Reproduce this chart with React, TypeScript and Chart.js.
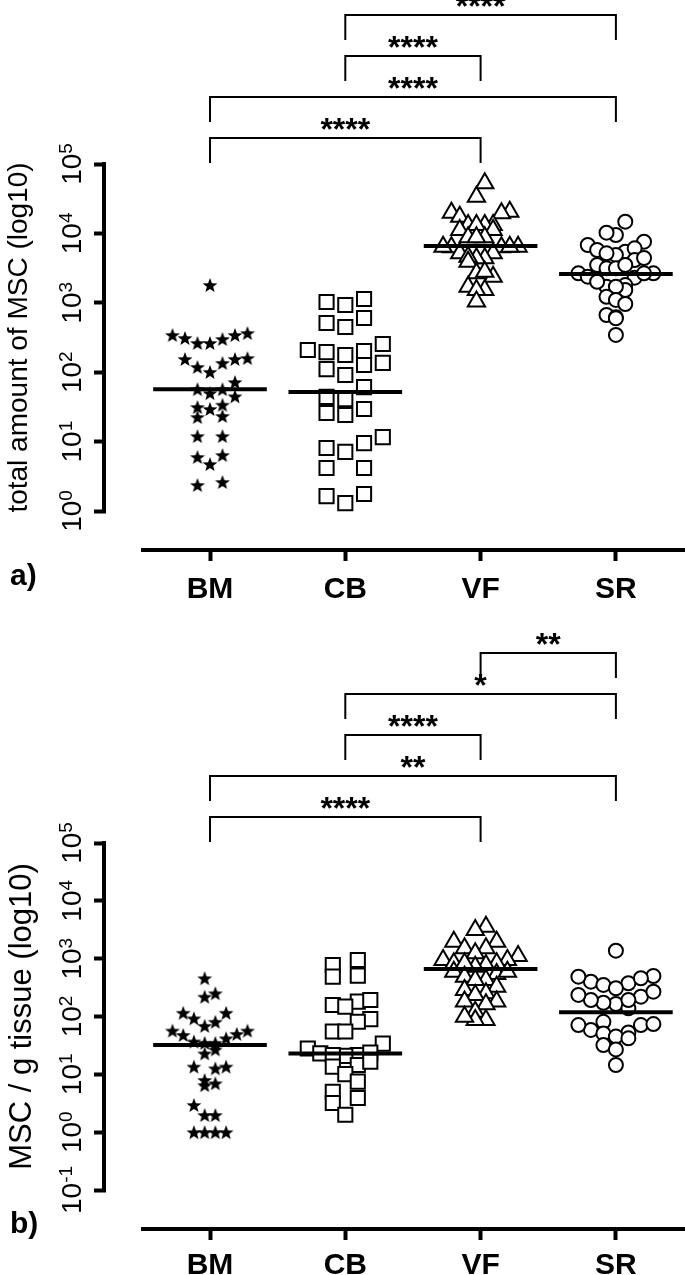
import React, { useEffect, useRef } from "react";
import { Chart, registerables } from "chart.js";

Chart.register(...registerables);

// ---------- data ----------
const categories = ["BM", "CB", "VF", "SR"];

// Panel a: total amount of MSC
const aBM = [1806, 367, 344, 301, 344, 264, 311, 264, 155, 136, 101, 119, 155, 160, 72, 50, 45, 57, 57, 34, 31.5, 29.5, 22.6, 23.4, 12, 12, 6.4, 6.0, 4.75, 2.37, 2.62];
const aCB = [1027, 1135, 929, 512, 604, 448, 202, 177, 195, 209, 255, 91, 111, 127, 136, 61, 44, 41, 25.8, 29.5, 24.2, 11.6, 8.1, 9.5, 7.1, 4.17, 4.17, 1.3, 1.76, 1.64];
const aVF = [52700, 33800, 19900, 20500, 19500, 17400, 13200, 13200, 13200, 13200, 11200, 11200, 8790, 8790, 8790, 6310, 6310, 6430, 6430, 5170, 5170, 6430, 4380, 4380, 4620, 3910, 2380, 2660, 2800, 1710, 1530, 1530, 1040];
const aSR = [14750, 9480, 10230, 6810, 7590, 5450, 6100, 5770, 4890, 5170, 4140, 3510, 3140, 3140, 3510, 2300, 2660, 2660, 2380, 2660, 1800, 1530, 1710, 1710, 2010, 1220, 1100, 961, 667, 618, 598, 344, 4420];
const aMedians = [57, 52, 6600, 2600];

// Panel b: MSC per g tissue
const bBM = [459, 252, 220, 116, 116, 93, 81, 69, 42, 50, 57, 57, 48, 27, 35, 35, 37, 23, 13.6, 13.6, 12.7, 7.0, 6.5, 8.0, 2.95, 1.98, 1.98, 1, 1, 1, 1];
const bCB = [778, 950, 489, 508, 158, 181, 148, 193, 90, 81, 55, 55, 34, 28, 23, 21.6, 20.8, 21.6, 23.7, 13.6, 14.5, 16.6, 10.1, 7.5, 3.9, 5.0, 3.2, 2.0];
const bVF = [3580, 3130, 1970, 1970, 1510, 1510, 1110, 1240, 950, 950, 833, 833, 778, 728, 833, 544, 596, 596, 489, 428, 428, 328, 288, 252, 236, 181, 181, 163, 121, 87, 87, 99];
const bSR = [1376, 376, 400, 502, 458, 351, 220, 308, 269, 165, 173, 193, 139, 58.5, 53, 71, 81, 71, 51, 45, 42, 32, 27, 14.5, 489, 236, 74, 193];
const bMedians = [32, 23, 660, 119];

// significance brackets (category indices), listed from lowest to highest
const aBracketFrom = [0, 0, 1, 1];
const aBracketTo = [2, 3, 2, 3];
const aBracketLabel = ["****", "****", "****", "****"];
const bBracketFrom = [0, 0, 1, 1, 2];
const bBracketTo = [2, 3, 2, 3, 3];
const bBracketLabel = ["****", "**", "****", "*", "**"];

// y tick exponents (labels 10^e)
const aExponents = [0, 1, 2, 3, 4, 5];
const bExponents = [-1, 0, 1, 2, 3, 4, 5];

// ---------- styles / layout ----------
const FONT = '"Liberation Sans", Arial, Helvetica, sans-serif';
const W = 685;
const Y_AXIS_W = 106;
const X_GAP_BELOW = 39; // px between lowest y tick and x axis
const X_AXIS_INSET = 35; // x axis line starts this far right of the y axis
const CAT_FIRST_PX = 104; // distance from y axis to first category
const CAT_STEP_PX = 135.3;
const SPREAD_PX = 75;
const MEDIAN_HALF = 0.42;
const BRACKET_FIRST = 26;
const BRACKET_GAP = 41;
const BRACKET_LEG = 25;
const ROW_PX = [14, 15.5, 14, 14];

function makeStar(): HTMLCanvasElement {
  const size = 16;
  const c = document.createElement("canvas");
  c.width = size;
  c.height = size;
  const g = c.getContext("2d")!;
  const outer = 7.8;
  const inner = 3.3;
  g.beginPath();
  for (let i = 0; i < 10; i++) {
    const r = i % 2 ? inner : outer;
    const a = -Math.PI / 2 + (i * Math.PI) / 5;
    const x = size / 2 + r * Math.cos(a);
    const y = size / 2 + 0.8 + r * Math.sin(a);
    if (i === 0) g.moveTo(x, y);
    else g.lineTo(x, y);
  }
  g.closePath();
  g.fillStyle = "#000";
  g.fill();
  return c;
}

function range(a: number, b: number): number[] {
  const r: number[] = [];
  for (let v = a; v <= b + 1e-9; v += 1) r.push(v);
  return r;
}

// Prism-like row swarm: returns horizontal offsets in px
function swarm(values: number[], pix: (v: number) => number, rowPx: number): number[] {
  const order = values.map((_, i) => i).sort((a, b) => values[b] - values[a]);
  const rows: number[][] = [];
  let cur: number[] = [];
  let startY = 0;
  for (const i of order) {
    const y = pix(values[i]);
    if (cur.length && y - startY > rowPx) {
      rows.push(cur);
      cur = [];
    }
    if (!cur.length) startY = y;
    cur.push(i);
  }
  if (cur.length) rows.push(cur);
  const maxRow = Math.max(...rows.map((r) => r.length));
  const half = maxRow % 2 === 0;
  const slotPx = maxRow > 1 ? SPREAD_PX / (maxRow - 1) : 0;
  const off = new Array(values.length).fill(0);
  for (const row of rows) {
    const k = row.length;
    let slots: number[];
    if (!half) {
      if (k % 2 === 1) slots = range(-(k - 1) / 2, (k - 1) / 2);
      else if (k === 2) slots = [-1, 1];
      else slots = range(-(k / 2 - 1), k / 2);
    } else {
      if (k % 2 === 0) slots = range(-(k - 1) / 2, (k - 1) / 2);
      else slots = range(-(k - 1) / 2 - 0.5, (k - 1) / 2 - 0.5);
    }
    const sorted = [...slots].sort((a, b) => Math.abs(b) - Math.abs(a) || b - a);
    row.forEach((pi, j) => {
      off[pi] = sorted[j] * slotPx;
    });
  }
  return off;
}

interface Panel {
  groups: number[][];
  medians: number[];
  from: number[];
  to: number[];
  labels: string[];
  exponents: number[];
  title: string;
  tag: string;
  height: number;
  top: number;
  axisY: number;
  titleSize: number;
  titleX: number;
  tagBaseline: number;
  labelPad: number;
}

const panelA: Panel = {
  groups: [aBM, aCB, aVF, aSR],
  medians: aMedians,
  from: aBracketFrom,
  to: aBracketTo,
  labels: aBracketLabel,
  exponents: aExponents,
  title: "total amount of MSC (log10)",
  tag: "a)",
  height: 615,
  top: 164,
  axisY: 550,
  titleSize: 28,
  titleX: 27,
  tagBaseline: 585,
  labelPad: 11,
};

const panelB: Panel = {
  groups: [bBM, bCB, bVF, bSR],
  medians: bMedians,
  from: bBracketFrom,
  to: bBracketTo,
  labels: bBracketLabel,
  exponents: bExponents,
  title: "MSC / g tissue (log10)",
  tag: "b)",
  height: 660,
  top: 228,
  axisY: 614,
  titleSize: 31,
  titleX: 31,
  tagBaseline: 618,
  labelPad: 8,
};

function buildChart(canvas: HTMLCanvasElement, p: Panel): Chart {
  const minE = Math.min(...p.exponents);
  const maxE = Math.max(...p.exponents);
  const areaH = p.axisY - p.top;
  const decadePx = (areaH - X_GAP_BELOW) / (maxE - minE);
  const yMin = Math.pow(10, minE - X_GAP_BELOW / decadePx);
  const yMax = Math.pow(10, maxE);
  const xMin = -CAT_FIRST_PX / CAT_STEP_PX;
  const xMax = xMin + (W - Y_AXIS_W) / CAT_STEP_PX;

  const star = makeStar();
  const pointStyles: any[] = [star, "rect", "triangle", "circle"];
  const radii = [8, 10, 10, 7];

  const medianSets = p.medians.map((m, i) => ({
    data: [
      { x: i - MEDIAN_HALF, y: m },
      { x: i + MEDIAN_HALF, y: m },
    ],
    showLine: true,
    borderColor: "#000",
    borderWidth: 4,
    pointRadius: 0,
  }));
  const pointSets = p.groups.map((vals, gi) => ({
    data: vals.map((v) => ({ x: gi, y: v })),
    showLine: false,
    pointStyle: pointStyles[gi],
    pointRadius: radii[gi],
    pointBorderWidth: gi === 0 ? 0 : 2,
    pointBorderColor: "#000",
    pointBackgroundColor: gi === 0 ? "#000" : "#fff",
  }));

  const overlay = {
    id: "overlay",
    afterDraw(chart: any) {
      const ctx: CanvasRenderingContext2D = chart.ctx;
      const ca = chart.chartArea;
      const xs = chart.scales.x;
      const ys = chart.scales.y;
      ctx.save();
      ctx.strokeStyle = "#000";
      ctx.fillStyle = "#000";
      // y axis line
      const yTop = ys.getPixelForValue(yMax);
      const yBot = ys.getPixelForValue(Math.pow(10, minE));
      ctx.lineWidth = 4;
      ctx.lineCap = "square";
      ctx.beginPath();
      ctx.moveTo(ca.left - 2, yTop);
      ctx.lineTo(ca.left - 2, yBot);
      ctx.stroke();
      // x axis line
      ctx.lineCap = "butt";
      ctx.beginPath();
      ctx.moveTo(ca.left + X_AXIS_INSET, ca.bottom);
      ctx.lineTo(W, ca.bottom);
      ctx.stroke();
      // y tick labels 10^e
      for (const e of p.exponents) {
        const py = ys.getPixelForValue(Math.pow(10, e));
        ctx.save();
        ctx.translate(ca.left - 25, py);
        ctx.rotate(-Math.PI / 2);
        ctx.textAlign = "left";
        ctx.textBaseline = "alphabetic";
        ctx.font = `28px ${FONT}`;
        const w1 = ctx.measureText("10").width;
        ctx.font = `19px ${FONT}`;
        const sup = String(e);
        const w2 = ctx.measureText(sup).width;
        const x0 = -(w1 + w2) / 2;
        ctx.font = `28px ${FONT}`;
        ctx.fillText("10", x0, 0);
        ctx.font = `19px ${FONT}`;
        ctx.fillText(sup, x0 + w1, -9);
        ctx.restore();
      }
      // y title
      ctx.save();
      ctx.translate(p.titleX, (yTop + yBot) / 2);
      ctx.rotate(-Math.PI / 2);
      ctx.font = `${p.titleSize}px ${FONT}`;
      ctx.textAlign = "center";
      ctx.textBaseline = "alphabetic";
      ctx.fillText(p.title, 0, 0);
      ctx.restore();
      // panel tag
      ctx.font = `bold 30px ${FONT}`;
      ctx.textAlign = "left";
      ctx.fillText(p.tag, 10, p.tagBaseline);
      // brackets
      ctx.lineWidth = 2;
      ctx.lineCap = "butt";
      p.labels.forEach((lab, i) => {
        const yl = ca.top - BRACKET_FIRST - i * BRACKET_GAP;
        const x1 = xs.getPixelForValue(p.from[i]);
        const x2 = xs.getPixelForValue(p.to[i]);
        ctx.beginPath();
        ctx.moveTo(x1, yl + BRACKET_LEG);
        ctx.lineTo(x1, yl);
        ctx.lineTo(x2, yl);
        ctx.lineTo(x2, yl + BRACKET_LEG);
        ctx.stroke();
        ctx.font = `bold 32px ${FONT}`;
        ctx.textAlign = "center";
        ctx.fillText(lab, (x1 + x2) / 2, yl + 2);
      });
      ctx.restore();
    },
  };

  const chart = new Chart(canvas, {
    type: "scatter",
    data: { datasets: [...medianSets, ...pointSets] as any },
    options: {
      responsive: false,
      animation: false,
      devicePixelRatio: 1,
      events: [],
      layout: { padding: { top: p.top, left: 0, right: 0, bottom: 0 } },
      plugins: { legend: { display: false }, tooltip: { enabled: false } },
      scales: {
        x: {
          type: "linear",
          min: xMin,
          max: xMax,
          border: { display: false },
          grid: {
            drawOnChartArea: false,
            drawTicks: true,
            tickLength: 11,
            tickWidth: 4,
            tickColor: "#000",
          },
          ticks: {
            color: "#000",
            padding: p.labelPad,
            font: { family: FONT, size: 30, weight: "bold" },
            callback: (v: any) => categories[Number(v)] ?? "",
          },
          afterBuildTicks: (s: any) => {
            s.ticks = categories.map((_, i) => ({ value: i }));
          },
          afterFit: (s: any) => {
            s.height = p.height - p.axisY;
            s.paddingLeft = 0;
            s.paddingRight = 0;
          },
        },
        y: {
          type: "logarithmic",
          min: yMin,
          max: yMax,
          border: { display: false },
          grid: {
            drawOnChartArea: false,
            drawTicks: true,
            tickLength: 12,
            tickWidth: 4,
            tickColor: "#000",
          },
          ticks: { display: false },
          afterBuildTicks: (s: any) => {
            s.ticks = p.exponents.map((e) => ({ value: Math.pow(10, e), major: true }));
          },
          afterFit: (s: any) => {
            s.width = Y_AXIS_W;
            s.paddingTop = 0;
            s.paddingBottom = 0;
          },
        },
      },
    } as any,
    plugins: [overlay],
  });

  // keep the category spacing fixed whatever width the layout left for the plot
  const area = chart.chartArea;
  (chart.options.scales as any).x.max = xMin + (area.right - area.left) / CAT_STEP_PX;
  chart.update();

  // second pass: spread points horizontally (dot-plot swarm) using the chart's own scales
  const xs: any = chart.scales.x;
  const ys: any = chart.scales.y;
  const unitPx = xs.getPixelForValue(1) - xs.getPixelForValue(0);
  p.groups.forEach((vals, gi) => {
    const offs = swarm(vals, (v) => ys.getPixelForValue(v), ROW_PX[gi]);
    const ds: any = chart.data.datasets[p.medians.length + gi];
    ds.data = vals.map((v, i) => ({ x: gi + offs[i] / unitPx, y: v }));
  });
  chart.update();
  return chart;
}

export default function App() {
  const refA = useRef<HTMLCanvasElement | null>(null);
  const refB = useRef<HTMLCanvasElement | null>(null);

  useEffect(() => {
    document.body.style.margin = "0";
    const ca = buildChart(refA.current!, panelA);
    const cb = buildChart(refB.current!, panelB);
    return () => {
      ca.destroy();
      cb.destroy();
    };
  }, []);

  return (
    <div style={{ position: "absolute", left: 0, top: 0, width: W, height: 1275, background: "#fff", overflow: "hidden" }}>
      <canvas
        ref={refA}
        width={W}
        height={panelA.height}
        style={{ position: "absolute", left: 0, top: 0, width: W, height: panelA.height, display: "block" }}
      />
      <canvas
        ref={refB}
        width={W}
        height={panelB.height}
        style={{ position: "absolute", left: 0, top: panelA.height, width: W, height: panelB.height, display: "block" }}
      />
    </div>
  );
}
